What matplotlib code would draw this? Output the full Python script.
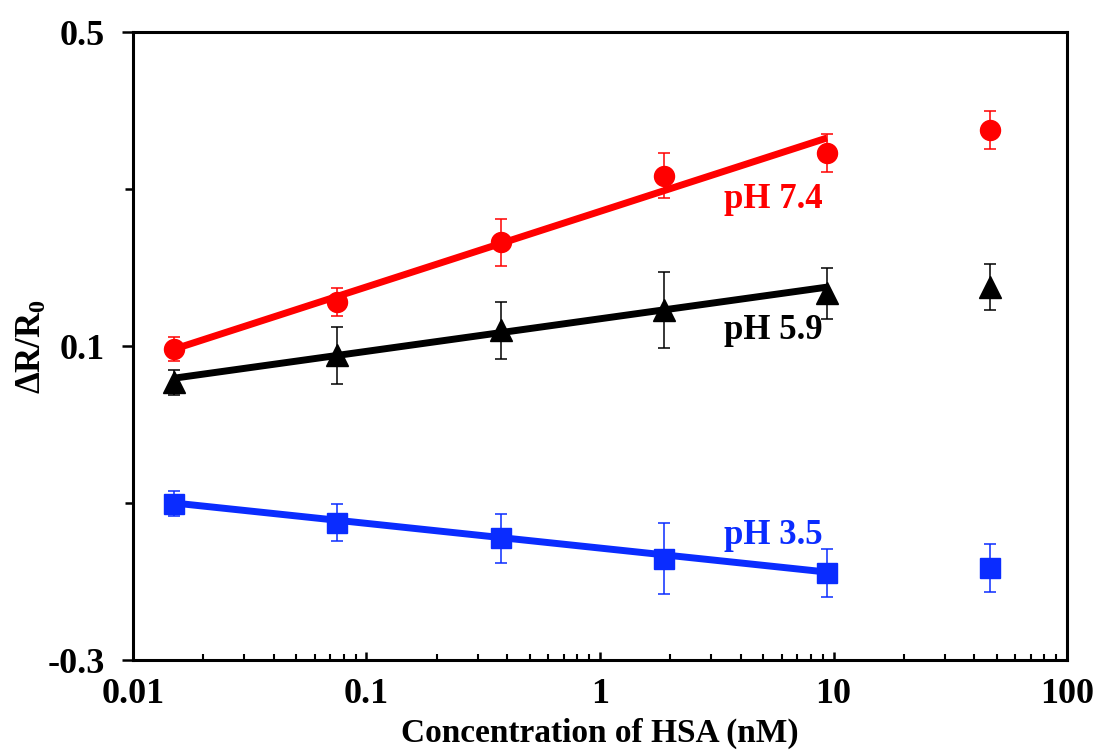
import matplotlib
matplotlib.use('Agg')
import matplotlib.pyplot as plt
from matplotlib.ticker import FixedLocator, FixedFormatter, LogLocator, NullFormatter

plt.rcParams['font.family'] = 'Liberation Serif'
plt.rcParams['font.weight'] = 'bold'
plt.rcParams['mathtext.fontset'] = 'custom'
plt.rcParams['mathtext.rm'] = 'Liberation Serif:bold'
plt.rcParams['mathtext.it'] = 'Liberation Serif:bold'
plt.rcParams['mathtext.bf'] = 'Liberation Serif:bold'

# HSA concentrations (nM), 5-fold dilutions
conc = [0.015, 0.075, 0.375, 1.875, 9.375, 46.875]

ph74 = [0.096, 0.156, 0.232, 0.317, 0.346, 0.375]
ph74_err = [0.015, 0.018, 0.030, 0.029, 0.024, 0.024]
ph59 = [0.054, 0.088, 0.120, 0.146, 0.167, 0.175]
ph59_err = [0.016, 0.036, 0.036, 0.048, 0.032, 0.029]
ph35 = [-0.101, -0.125, -0.145, -0.171, -0.189, -0.183]
ph35_err = [0.016, 0.024, 0.031, 0.045, 0.031, 0.031]

# linear fits (vs log conc) over the first five points, given by end values
fit_x = [0.015, 9.375]
fit74 = [0.096, 0.365]
fit59 = [0.059, 0.175]
fit35 = [-0.100, -0.188]

red = '#ff0000'
black = '#000000'
blue = '#0a2cff'

fig = plt.figure(figsize=(10.97, 7.53), dpi=100)
ax = fig.add_axes([0.1212, 0.1235, 0.8515, 0.834])

series = [
    (ph74, ph74_err, fit74, red, 'o', 14.4, 'pH 7.4', 0.286),
    (ph59, ph59_err, fit59, black, '^', 15.5, 'pH 5.9', 0.120),
    (ph35, ph35_err, fit35, blue, 's', 15.0, 'pH 3.5', -0.141),
]
for ys, errs, fit, c, m, ms, label, ty in series:
    ax.plot(fit_x, fit, color=c, linewidth=5, zorder=2, solid_capstyle='butt')
    ax.plot(conc, ys, linestyle='none', marker=m, markersize=ms, color=c, zorder=3)
    ax.errorbar(conc, ys, yerr=errs, fmt='none', ecolor=c, elinewidth=1.1,
                capsize=4, capthick=1.1, zorder=4)
    ax.text(3.4, ty, label, color=c, fontsize=25, fontweight='bold',
            ha='left', va='center')

ax.set_xscale('log')
ax.set_xlim(0.01, 100)
ax.set_ylim(-0.3, 0.5)

ax.xaxis.set_major_locator(FixedLocator([0.01, 0.1, 1, 10, 100]))
ax.xaxis.set_major_formatter(FixedFormatter(['0.01', '0.1', '1', '10', '100']))
ax.xaxis.set_minor_locator(LogLocator(base=10, subs=range(2, 10)))
ax.xaxis.set_minor_formatter(NullFormatter())
ax.yaxis.set_major_locator(FixedLocator([-0.3, 0.1, 0.5]))
ax.yaxis.set_major_formatter(FixedFormatter(['-0.3', '0.1', '0.5']))
ax.yaxis.set_minor_locator(FixedLocator([-0.1, 0.3]))

ax.tick_params(axis='x', which='major', direction='in', length=6, width=1.8,
               pad=13, labelsize=26)
ax.tick_params(axis='x', which='minor', direction='in', length=4, width=1.5)
ax.tick_params(axis='y', which='major', direction='out', length=8, width=1.8,
               pad=12, labelsize=26)
ax.tick_params(axis='y', which='minor', direction='out', length=6, width=1.8)

for sp in ax.spines.values():
    sp.set_linewidth(2.2)

ax.set_xlabel('Concentration of HSA (nM)', fontsize=24, fontweight='bold', labelpad=5)
ax.set_ylabel('ΔR/R$_0$', fontsize=25, fontweight='bold', labelpad=-1)

fig.savefig('out.png', dpi=100)
